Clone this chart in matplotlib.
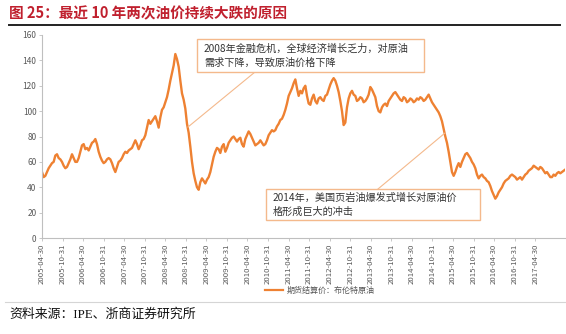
import numpy as np
import matplotlib
matplotlib.use("Agg")
import matplotlib.pyplot as plt
from matplotlib.patches import Rectangle
from matplotlib.lines import Line2D

plt.rcParams['font.family'] = ['Noto Sans CJK SC', 'DejaVu Sans']

W, H = 566, 334
ORANGE = "#EE8132"
BOX_EDGE = "#F4B98C"

TITLE = "图 25：最近 10 年两次油价持续大跌的原因"
SOURCE = "资料来源：IPE、浙商证券研究所"
LEGEND = "期货结算价：布伦特原油"
NOTE_2008 = "2008年金融危机，全球经济增长乏力，对原油\n需求下降，导致原油价格下降"
NOTE_2014 = "2014年，美国页岩油爆发式增长对原油价\n格形成巨大的冲击"

TICK_LABELS = [f"{y}-{md}" for y in range(2005, 2018) for md in ("04-30", "10-31")][:25]

# brent settlement (USD/bbl), about two values per month
BRENT = [
    52, 48, 49, 52, 55, 57, 59, 60, 65, 66, 63, 62, 60, 57, 55, 56, 59, 62, 66, 63,
    60, 60, 63, 68, 73, 74, 70, 71, 69, 72, 75, 76, 78, 74, 68, 64, 61, 59, 60, 62,
    63, 62, 59, 55, 52, 56, 60, 61, 63, 66, 68, 67, 69, 70, 71, 74, 77, 74, 70, 73,
    77, 78, 81, 87, 93, 90, 92, 94, 96, 92, 87, 95, 101, 103, 107, 111, 117, 124, 130, 136,
    145, 141, 135, 124, 114, 109, 102, 90, 83, 72, 60, 51, 45, 40, 38, 44, 47, 45, 43, 46,
    48, 52, 58, 64, 68, 71, 70, 67, 72, 74, 68, 71, 75, 77, 79, 80, 78, 76, 78, 79,
    74, 72, 78, 81, 84, 82, 79, 76, 73, 74, 75, 77, 75, 73, 74, 77, 81, 83, 85, 84,
    85, 88, 90, 93, 94, 97, 101, 106, 112, 115, 118, 122, 125, 118, 112, 116, 114, 118, 120, 112,
    106, 105, 110, 113, 108, 106, 110, 111, 109, 108, 112, 113, 117, 121, 124, 126, 124, 120, 115, 108,
    100, 89, 91, 103, 110, 114, 116, 113, 112, 108, 109, 111, 110, 107, 108, 110, 113, 119, 117, 114,
    111, 104, 100, 99, 103, 105, 106, 104, 108, 110, 112, 114, 115, 113, 111, 109, 108, 111, 110, 107,
    108, 110, 109, 107, 108, 110, 109, 111, 110, 108, 109, 111, 113, 110, 107, 105, 103, 101, 99, 96,
    92, 86, 80, 75, 68, 60, 52, 49, 52, 56, 59, 56, 60, 63, 66, 67, 65, 63, 60, 58,
    55, 50, 47, 49, 50, 48, 47, 45, 44, 41, 37, 34, 31, 33, 36, 38, 40, 43, 45, 46,
    47, 49, 50, 49, 48, 46, 47, 48, 46, 48, 50, 51, 53, 54, 55, 57, 56, 55, 54, 56,
    55, 53, 51, 52, 50, 48, 48, 50, 49, 51, 52, 51, 52, 53, 54,
]
STEP = 0.0811  # one sample in units of the half-year tick spacing


def fx(px):
    return px / W


def fy(py):
    return 1 - py / H


fig = plt.figure(figsize=(W / 100, H / 100), dpi=100)

fig.text(fx(9), fy(13), TITLE, color="#C0202E", fontsize=10.5, fontweight="bold",
         va="center", ha="left")
fig.add_artist(Line2D([fx(9), fx(560)], [fy(25), fy(25)], color="#222222", lw=1.4))

ax = fig.add_axes([fx(42), fy(238), fx(565) - fx(42), fy(35) - fy(238)])
x = np.arange(len(BRENT)) * STEP
ax.plot(x, BRENT, color=ORANGE, lw=1.7)

ax.set_xlim(0, (565 - 42) / 20.55)
ax.set_ylim(0, 160)
ax.set_yticks(range(0, 161, 20))
ax.set_xticks(range(len(TICK_LABELS)))
ax.set_xticklabels(TICK_LABELS, rotation=90)
for s in ("top", "right"):
    ax.spines[s].set_visible(False)
for s in ("left", "bottom"):
    ax.spines[s].set_color("#BFBFBF")
    ax.spines[s].set_linewidth(0.8)
ax.tick_params(axis="both", colors="#BFBFBF", labelcolor="#595959", length=2, width=0.6)
ax.tick_params(axis="y", labelsize=6, pad=2)
ax.tick_params(axis="x", labelsize=5.6, pad=2)

# annotation boxes with leader lines
for (x0, y0, x1, y1), note, (lx, ly), (px, py) in [
    ((197, 39, 424, 72), NOTE_2008, (255, 72), (188, 127)),
    ((266, 189, 480, 220), NOTE_2014, (378, 189), (445, 133)),
]:
    fig.add_artist(Rectangle((fx(x0), fy(y1)), fx(x1) - fx(x0), fy(y0) - fy(y1),
                             facecolor="white", edgecolor=BOX_EDGE, lw=1.0, zorder=5))
    fig.text(fx(x0 + 7), fy((y0 + y1) / 2), note, fontsize=7.3, color="#333333",
             va="center", ha="left", linespacing=1.45, zorder=6)
    fig.add_artist(Line2D([fx(lx), fx(px)], [fy(ly), fy(py)], color=BOX_EDGE, lw=0.8))

# legend
fig.add_artist(Line2D([fx(265), fx(283)], [fy(290), fy(290)], color=ORANGE, lw=1.6))
fig.text(fx(287), fy(290), LEGEND, fontsize=5.8, color="#555555", va="center", ha="left")

fig.add_artist(Line2D([fx(5), fx(566)], [fy(302), fy(302)], color="#D5D5D5", lw=0.8))
fig.text(fx(9), fy(315), SOURCE, fontsize=9.3, color="#111111", va="center", ha="left",
         family=["Liberation Serif", "Noto Sans CJK SC"])

fig.savefig("out.png", dpi=100)
